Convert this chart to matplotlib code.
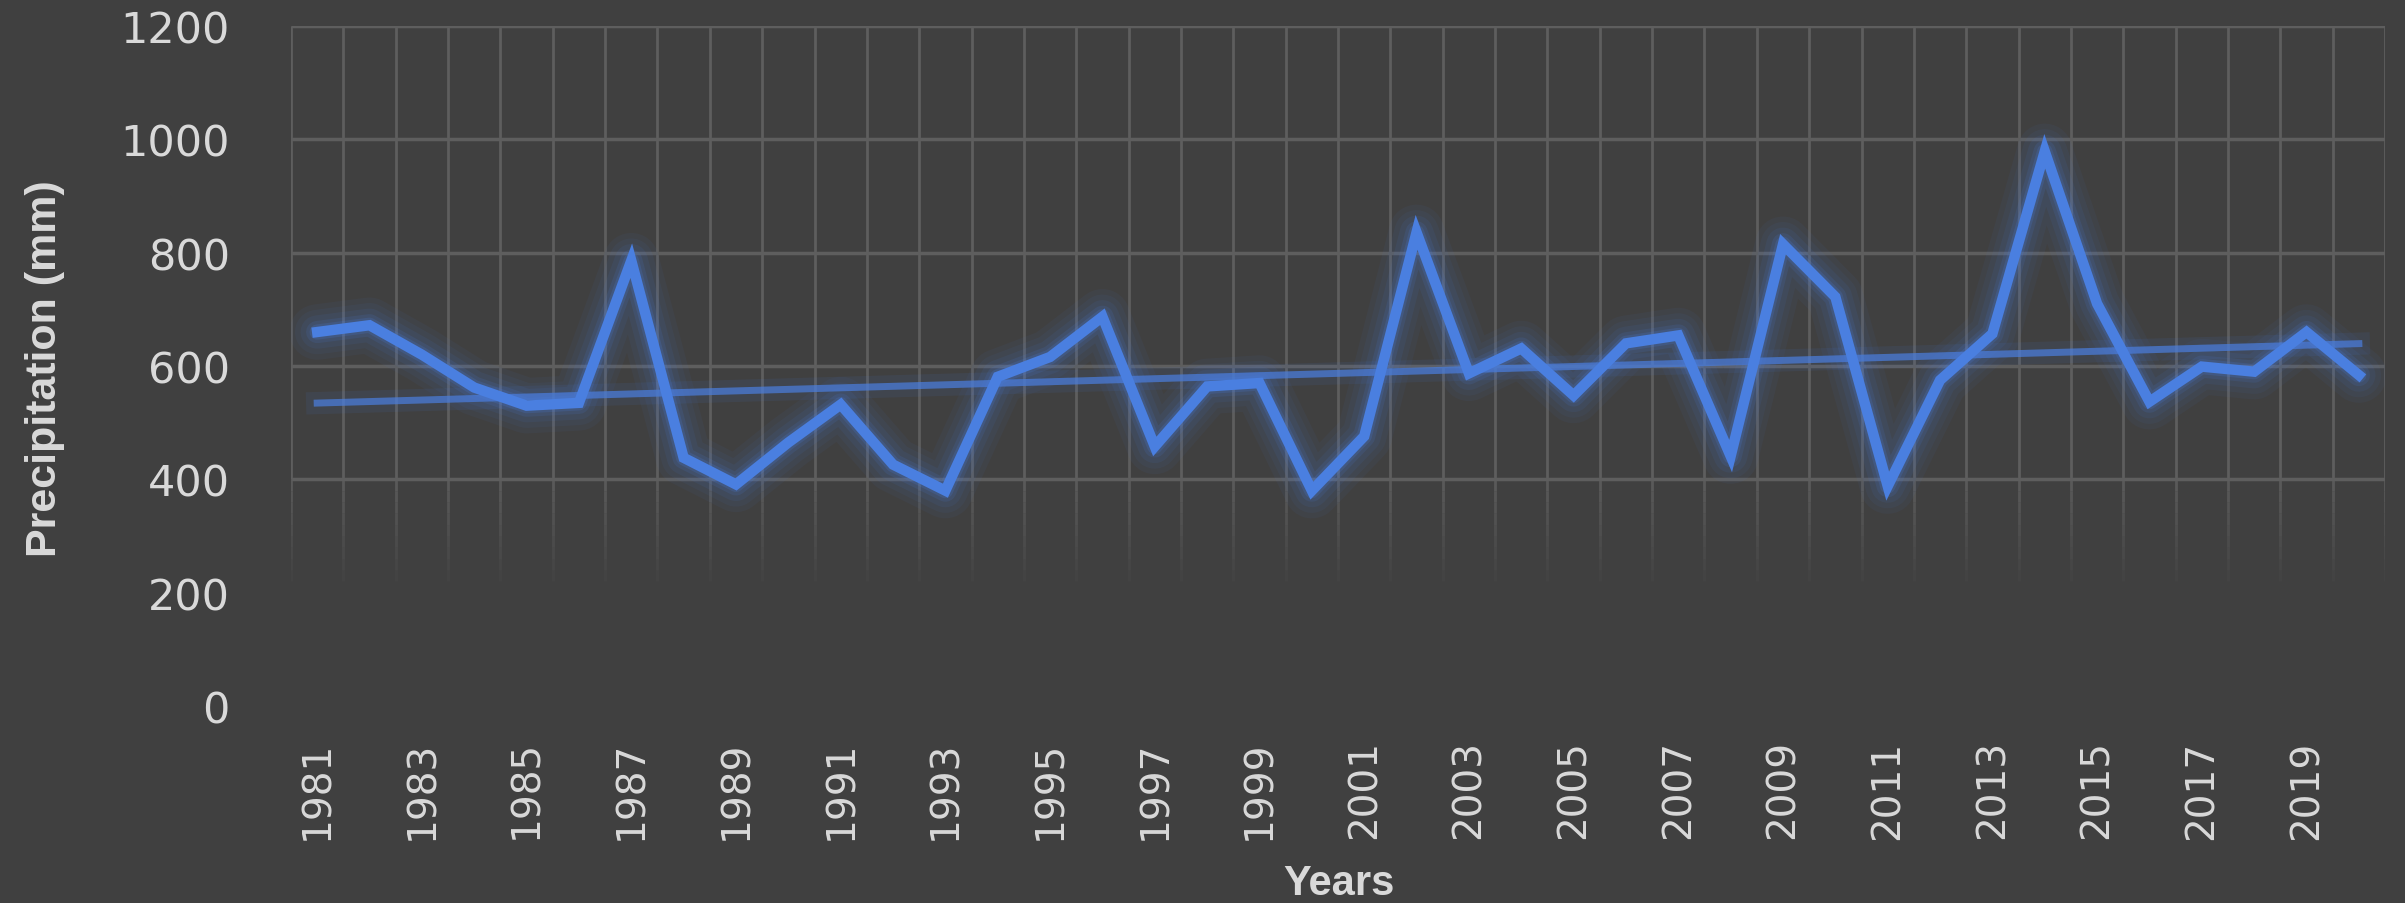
import numpy as np
import matplotlib
matplotlib.use('Agg')
import matplotlib.pyplot as plt

years = list(range(1981, 2021))
precip = [660, 672, 620, 562, 530, 535, 786, 438, 391, 465,
          532, 426, 380, 581, 616, 687, 458, 564, 570, 380,
          476, 836, 587, 631, 548, 640, 654, 441, 815, 722,
          388, 575, 657, 979, 710, 537, 599, 590, 660, 584]
yticks = [0, 200, 400, 600, 800, 1000, 1200]

bg = '#404040'
grid_col = '#5e5e5e'
text_col = '#d9d9d9'
blue = '#4a7fe0'

fig = plt.figure(figsize=(24.05, 9.04), dpi=100)
fig.patch.set_facecolor(bg)
ax = fig.add_axes([0.121, 0.218, 0.8707, 0.752])
ax.set_facecolor(bg)

x = np.arange(len(years))
ax.set_xlim(-0.5, len(years) - 0.5)
ax.set_ylim(0, 1200)

# grid: category boundaries, fading out below 400
bounds = np.arange(-0.5, len(years))
ax.vlines(bounds, 400, 1200, colors=grid_col, lw=2, zorder=1)
for i, lo in enumerate(range(380, 200, -20)):
    ax.vlines(bounds, lo, lo + 20, colors=grid_col, lw=2,
              alpha=0.85 - i * 0.09, zorder=1)
ax.hlines([400, 600, 800, 1000, 1200], -0.5, len(years) - 0.5,
          colors=grid_col, lw=2.5, zorder=1)

# linear trend
slope, icpt = np.polyfit(x, precip, 1)
trend = slope * x + icpt
ax.plot(x, trend, color=blue, lw=16, alpha=0.09, zorder=2)
ax.plot(x, trend, color=blue, lw=5, alpha=0.7, zorder=3)

# precipitation series with soft glow
for lw, a in [(40, 0.05), (32, 0.06), (24, 0.08), (16, 0.12), (11, 0.18)]:
    ax.plot(x, precip, color=blue, lw=lw, alpha=a, zorder=4,
            solid_joinstyle='round', solid_capstyle='round')
ax.plot(x, precip, color=blue, lw=7.5, zorder=5, solid_joinstyle='miter')

for s in ax.spines.values():
    s.set_visible(False)

ax.set_xticks(x[::2])
ax.set_xticklabels([str(y) for y in years[::2]], rotation=90,
                   fontsize=28, color=text_col, family='DejaVu Sans')
ax.set_yticks(yticks)
ax.set_yticklabels([str(v) for v in yticks], fontsize=31,
                   color=text_col, family='DejaVu Sans')
ax.tick_params(axis='x', length=0, pad=24)
ax.tick_params(axis='y', length=0, pad=44)

fig.text(45 / 2405, 1 - 369 / 904, 'Precipitation (mm)', rotation=90,
         ha='center', va='center', fontsize=31, fontweight='bold',
         color=text_col, family='Liberation Sans')
fig.text(1339 / 2405, 1 - 864 / 904, 'Years', ha='center', va='top',
         fontsize=30, fontweight='bold', color=text_col,
         family='Liberation Sans')

fig.savefig('out.png', dpi=100, facecolor=bg)
